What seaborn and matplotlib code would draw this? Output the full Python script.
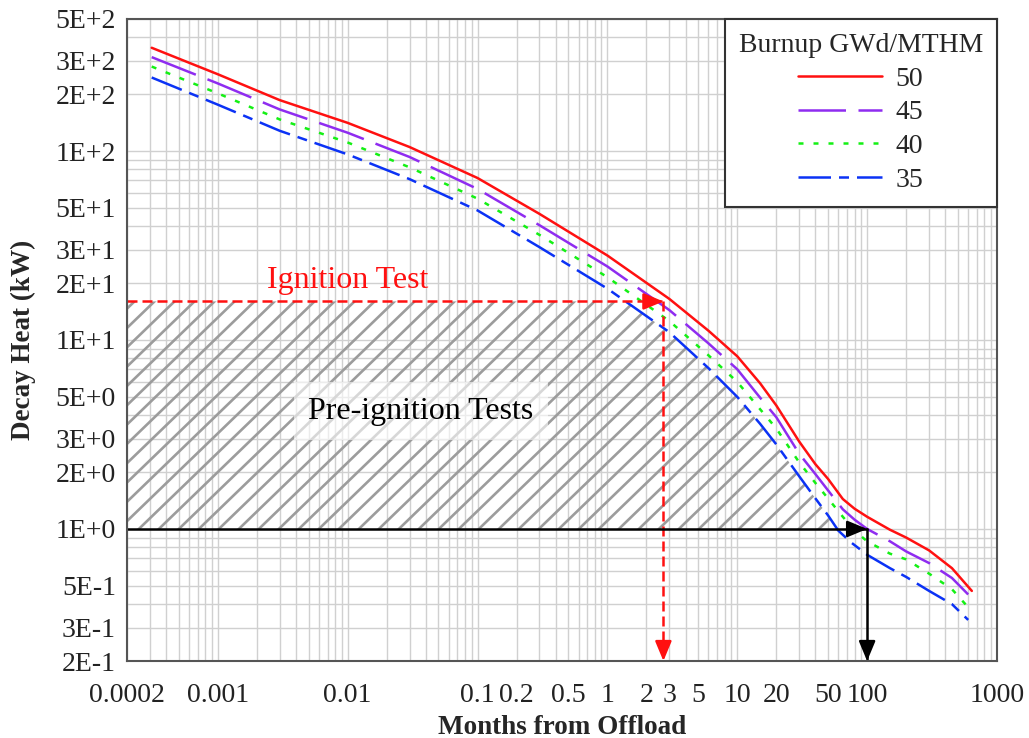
import matplotlib
matplotlib.use("Agg")
import matplotlib.pyplot as plt
from matplotlib.collections import LineCollection
from matplotlib.ticker import FixedLocator, LogLocator, NullFormatter
import numpy as np
import pandas as pd
import seaborn as sns

# decay heat (kW) vs months from offload
months_50 = [0.00031, 0.001, 0.003, 0.01, 0.03, 0.1, 0.3, 1, 3, 6, 10, 15, 20, 30, 40,
             50, 65, 80, 100, 150, 200, 300, 450, 640]
heat_50 = [352, 255, 186, 141, 105, 72, 46.5, 28, 16.5, 11.2, 8.2, 5.9, 4.5, 2.9, 2.2,
           1.84, 1.44, 1.28, 1.16, 0.99, 0.9, 0.77, 0.62, 0.47]

months_45 = [0.00031, 0.001, 0.003, 0.01, 0.03, 0.1, 0.3, 1, 3, 6, 10, 15, 20, 30, 40,
             50, 65, 80, 100, 150, 200, 300, 450, 600]
heat_45 = [314, 228, 166, 125, 93, 63, 40.5, 24.5, 14.4, 9.6, 7.0, 4.95, 3.9, 2.5, 1.95,
           1.6, 1.27, 1.12, 1.0, 0.86, 0.76, 0.66, 0.55, 0.45]

months_40 = [0.00031, 0.001, 0.003, 0.01, 0.03, 0.1, 0.3, 1, 3, 6, 10, 15, 20, 30, 40,
             50, 65, 80, 100, 150, 200, 300, 450, 610]
heat_40 = [280, 202, 147, 111, 82, 56, 36, 21.5, 12.6, 8.3, 6.0, 4.3, 3.4, 2.25, 1.75,
           1.45, 1.16, 0.98, 0.86, 0.74, 0.69, 0.58, 0.48, 0.38]

months_35 = [0.00031, 0.001, 0.003, 0.01, 0.03, 0.1, 0.3, 1, 3, 6, 10, 15, 20, 30, 40,
             50, 60, 75, 100, 150, 200, 300, 450, 600]
heat_35 = [245, 176, 128, 96, 71, 48.5, 31, 18.7, 11.0, 7.1, 5.0, 3.6, 2.8, 1.9, 1.45,
           1.18, 0.98, 0.85, 0.73, 0.62, 0.557, 0.47, 0.40, 0.33]

burnups = ["50", "45", "40", "35"]
palette = {"50": "#ff1010", "45": "#8f2cf0", "40": "#14f014", "35": "#0b32f5"}
dash_styles = {"50": "", "45": (19, 5), "40": (2, 4), "35": (13, 3.2, 4, 3.2)}

xticks = [0.0002, 0.001, 0.01, 0.1, 0.2, 0.5, 1, 2, 3, 5, 10, 20, 50, 100, 1000]
xtick_labels = ["0.0002", "0.001", "0.01", "0.1", "0.2", "0.5", "1", "2", "3", "5",
                "10", "20", "50", "100", "1000"]
yticks = [0.2, 0.3, 0.5, 1, 2, 3, 5, 10, 20, 30, 50, 100, 200, 300, 500]
ytick_labels = ["2E-1", "3E-1", "5E-1", "1E+0", "2E+0", "3E+0", "5E+0", "1E+1",
                "2E+1", "3E+1", "5E+1", "1E+2", "2E+2", "3E+2", "5E+2"]

ignition_month = 2.7
ignition_heat = 16
cutoff_month = 100
cutoff_heat = 1

XMIN, XMAX = 0.0002, 1000
YMIN, YMAX = 0.2, 500

sns.set_theme(style="white")
plt.rcParams["font.family"] = ["Liberation Serif", "DejaVu Serif"]

df = pd.concat([
    pd.DataFrame({"months": months_50, "heat": heat_50, "burnup": "50"}),
    pd.DataFrame({"months": months_45, "heat": heat_45, "burnup": "45"}),
    pd.DataFrame({"months": months_40, "heat": heat_40, "burnup": "40"}),
    pd.DataFrame({"months": months_35, "heat": heat_35, "burnup": "35"}),
])

fig = plt.figure(figsize=(10.29, 7.38), dpi=100)
ax_rect = [0.1234, 0.1043, 0.8455, 0.8700]
ax = fig.add_axes(ax_rect)
ax.set_xscale("log")
ax.set_yscale("log")
ax.set_xlim(XMIN, XMAX)
ax.set_ylim(YMIN, YMAX)

# pre-ignition region: below the ignition level, above the 1 kW line, left of the 35 curve
m35 = np.array(months_35)
h35 = np.array(heat_35)
lx, ly = np.log10(m35)[::-1], np.log10(h35)[::-1]
x_top = 10 ** np.interp(np.log10(ignition_heat), ly, lx)
x_bot = 10 ** np.interp(np.log10(cutoff_heat), ly, lx)
inside = (h35 < ignition_heat) & (h35 > cutoff_heat)
hx = np.concatenate([[XMIN, x_top], m35[inside], [x_bot]])
hy = np.concatenate([[ignition_heat, ignition_heat], h35[inside], [cutoff_heat]])
region = ax.fill_between(hx, cutoff_heat, hy, facecolor="none", edgecolor="none",
                         linewidth=0, zorder=1)

# hand-made diagonal hatch (wider spacing than matplotlib's built-in patterns)
ax_w = ax_rect[2] * fig.get_figwidth() * fig.dpi
ax_h = ax_rect[3] * fig.get_figheight() * fig.dpi
step = 20 / ax_w
run = ax_h / np.tan(np.radians(44)) / ax_w
starts = np.arange(-run, 1 + step, step)
segs = [[(s, 0), (s + run, 1)] for s in starts]
hatch = LineCollection(segs, transform=ax.transAxes, colors="#9c9c9c", linewidths=1.9,
                       zorder=1)
ax.add_collection(hatch)
hatch.set_clip_path(region.get_paths()[0], ax.transData)

sns.lineplot(data=df, x="months", y="heat", hue="burnup", style="burnup",
             hue_order=burnups, style_order=burnups, palette=palette,
             dashes=dash_styles, linewidth=1.8, sort=True, ax=ax, zorder=4)

# ignition test arrows (red dashed)
red = "#ff1010"
ax.plot([XMIN, ignition_month], [ignition_heat, ignition_heat], color=red, lw=1.8,
        dashes=(4, 2), zorder=5)
ax.plot([ignition_month, ignition_month], [ignition_heat, YMIN], color=red, lw=1.8,
        dashes=(4, 2), zorder=5)
head = dict(arrowstyle="-|>,head_length=0.6,head_width=0.25", mutation_scale=20,
            shrinkA=0, shrinkB=0, lw=1.8)
ax.annotate("", xy=(ignition_month, ignition_heat), xytext=(-14, 0),
            textcoords="offset points", arrowprops=dict(head, color=red), zorder=6)
ax.annotate("", xy=(ignition_month, YMIN), xytext=(0, 14),
            textcoords="offset points", arrowprops=dict(head, color=red), zorder=6)

# 1 kW cutoff arrows (black)
ax.plot([XMIN, cutoff_month], [cutoff_heat, cutoff_heat], color="black", lw=1.8, zorder=5)
ax.plot([cutoff_month, cutoff_month], [cutoff_heat, YMIN], color="black", lw=1.8, zorder=5)
ax.annotate("", xy=(cutoff_month, cutoff_heat), xytext=(-14, 0),
            textcoords="offset points", arrowprops=dict(head, color="black"), zorder=6)
ax.annotate("", xy=(cutoff_month, YMIN), xytext=(0, 14),
            textcoords="offset points", arrowprops=dict(head, color="black"), zorder=6)

ax.text(0.01, 18.8, "Ignition Test", color=red, fontsize=23, ha="center",
        va="baseline", zorder=6)
ax.text(0.0366, 4.2, "Pre-ignition Tests", color="black", fontsize=23, ha="center",
        va="center", zorder=6,
        bbox=dict(boxstyle="square,pad=0.45", facecolor="white", edgecolor="none", alpha=0.6))

# axes, ticks and grid
ax.xaxis.set_major_locator(FixedLocator(xticks))
ax.set_xticklabels(xtick_labels)
ax.yaxis.set_major_locator(FixedLocator(yticks))
ax.set_yticklabels(ytick_labels)
for axis in (ax.xaxis, ax.yaxis):
    axis.set_minor_locator(LogLocator(base=10, subs=np.arange(2, 10), numticks=100))
    axis.set_minor_formatter(NullFormatter())
ax.tick_params(axis="both", which="both", length=0, labelsize=20, colors="#222222")
ax.tick_params(axis="x", pad=16)
ax.tick_params(axis="y", pad=8)
ax.grid(True, which="both", color="#d0d0d0", linewidth=1.0, zorder=0)
ax.set_axisbelow(True)
for spine in ax.spines.values():
    spine.set_color("#555555")
    spine.set_linewidth(1.5)
    spine.set_zorder(7)

ax.set_xlabel("Months from Offload", fontsize=19.5, fontweight="bold")
ax.set_ylabel("Decay Heat (kW)", fontsize=19.5, fontweight="bold")
ax.xaxis.set_label_coords(0.5, -0.084)
ax.yaxis.set_label_coords(-0.104, 0.5)

handles, labels = ax.get_legend_handles_labels()
leg = ax.legend(handles, labels, title="Burnup GWd/MTHM", loc="upper right",
                bbox_to_anchor=(1, 1), borderaxespad=0, fontsize=20, title_fontsize=20,
                handlelength=3.0, handletextpad=0.5, labelspacing=0.3, borderpad=0.5,
                fancybox=False, framealpha=1)
leg.get_frame().set_edgecolor("#333333")
leg.get_frame().set_linewidth(1.5)
leg.set_zorder(8)

fig.savefig("out.png", dpi=100)
plt.close(fig)
